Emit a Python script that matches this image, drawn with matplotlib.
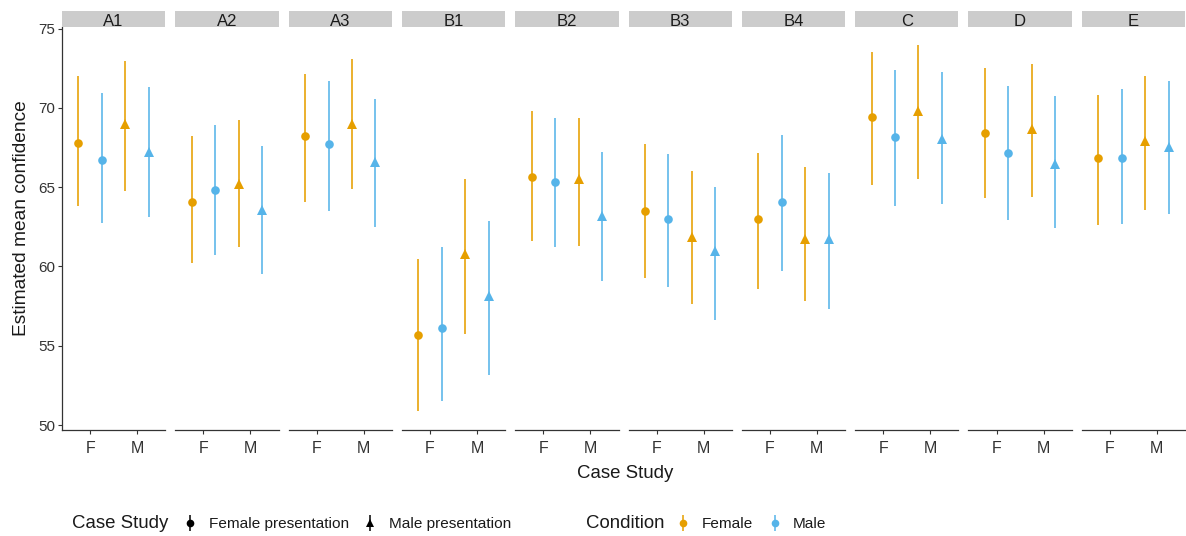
import matplotlib
matplotlib.use("Agg")
import matplotlib.pyplot as plt
from matplotlib.lines import Line2D
from matplotlib.legend_handler import HandlerTuple

plt.rcParams['font.family'] = ['Liberation Sans', 'DejaVu Sans']

panels = ["A1", "A2", "A3", "B1", "B2", "B3", "B4", "C", "D", "E"]
presentations = ["F", "M"]

# Female condition, F presentation
fem_F_mean = [67.80, 64.06, 68.25, 55.65, 65.63, 63.49, 62.99, 69.40, 68.40, 66.82]
fem_F_lo   = [63.84, 60.22, 64.09, 50.89, 61.62, 59.28, 58.58, 65.13, 64.31, 62.59]
fem_F_hi   = [72.00, 68.23, 72.13, 60.47, 69.82, 67.70, 67.18, 73.51, 72.50, 70.81]
# Male condition, F presentation
mal_F_mean = [66.70, 64.81, 67.74, 56.09, 65.35, 62.99, 64.06, 68.18, 67.18, 66.82]
mal_F_lo   = [62.73, 60.72, 63.47, 51.50, 61.23, 58.71, 59.74, 63.84, 62.92, 62.67]
mal_F_hi   = [70.93, 68.92, 71.70, 61.23, 69.38, 67.11, 68.29, 72.38, 71.37, 71.18]
# Female condition, M presentation
fem_M_mean = [68.98, 65.21, 68.98, 60.78, 65.52, 61.85, 61.73, 69.80, 68.67, 67.89]
fem_M_lo   = [64.79, 61.23, 64.91, 55.77, 61.26, 57.66, 57.81, 65.50, 64.41, 63.55]
fem_M_hi   = [72.94, 69.25, 73.07, 65.52, 69.38, 66.04, 66.30, 73.95, 72.75, 72.00]
# Male condition, M presentation
mal_M_mean = [67.24, 63.57, 66.61, 58.12, 63.21, 60.95, 61.73, 68.04, 66.48, 67.55]
mal_M_lo   = [63.15, 59.53, 62.46, 53.15, 59.06, 56.65, 57.35, 63.93, 62.42, 63.32]
mal_M_hi   = [71.31, 67.62, 70.55, 62.88, 67.24, 65.04, 65.88, 72.27, 70.74, 71.69]

y_ticks = [50, 55, 60, 65, 70, 75]

ORANGE = "#E69F00"
BLUE = "#56B4E9"
series = [
    # (presentation index, offset, colour, marker, mean, lo, hi)
    (0, -0.25, ORANGE, 'o', fem_F_mean, fem_F_lo, fem_F_hi),
    (0, +0.25, BLUE,   'o', mal_F_mean, mal_F_lo, mal_F_hi),
    (1, -0.25, ORANGE, '^', fem_M_mean, fem_M_lo, fem_M_hi),
    (1, +0.25, BLUE,   '^', mal_M_mean, mal_M_lo, mal_M_hi),
]

W, H = 1186, 536
fig = plt.figure(figsize=(W / 100, H / 100), dpi=100)

left_px, right_px, gap_px = 62, 1185, 10
pw = (right_px - left_px - 9 * gap_px) / 10
top_px, bot_px = 27.3, 430
strip_top_px = 11.2
TXT = "#1a1a1a"
TICK = "#333333"

for i, name in enumerate(panels):
    x0 = left_px + i * (pw + gap_px)
    ax = fig.add_axes([x0 / W, 1 - bot_px / H, pw / W, (bot_px - top_px) / H])
    for (pi, off, col, mk, mean, lo, hi) in series:
        x = pi + 1 + off
        ax.vlines(x, lo[i], hi[i], color=col, lw=1.15, zorder=2)
        ax.plot([x], [mean[i]], marker=mk, color=col, markersize=6.2 if mk == 'o' else 7.0,
                markeredgewidth=0, linestyle='none', zorder=3)
    ax.set_xlim(0.4, 2.6)
    ax.set_ylim(49.69, 75.08)
    ax.set_xticks([1, 2])
    ax.set_xticklabels(presentations, fontsize=11.5, color=TICK)
    ax.tick_params(axis='x', length=3, width=0.8, color=TICK, pad=5)
    for s in ['top', 'right']:
        ax.spines[s].set_visible(False)
    ax.spines['bottom'].set_linewidth(0.9)
    ax.spines['bottom'].set_color(TICK)
    if i == 0:
        ax.set_yticks(y_ticks)
        ax.set_yticklabels([str(v) for v in y_ticks], fontsize=11, color=TICK)
        ax.tick_params(axis='y', length=3, width=0.8, color=TICK, pad=2)
        ax.spines['left'].set_linewidth(0.9)
        ax.spines['left'].set_color(TICK)
        ax.set_ylabel("Estimated mean confidence", fontsize=13.8, color=TXT)
        ax.yaxis.set_label_coords((30 - left_px) / pw, (bot_px - 218) / (bot_px - top_px))
    else:
        ax.spines['left'].set_visible(False)
        ax.set_yticks([])
    ax.patch.set_alpha(0)
    # strip
    sax = fig.add_axes([x0 / W, 1 - top_px / H, pw / W, (top_px - strip_top_px) / H])
    sax.set_facecolor("#CCCCCC")
    for s in sax.spines.values():
        s.set_visible(False)
    sax.set_xticks([])
    sax.set_yticks([])
    sax.text(0.5, 0.38, name, ha='center', va='center', fontsize=12, color=TXT,
             transform=sax.transAxes)

fig.text(625 / W, 1 - 474 / H, "Case Study", ha='center', va='center',
         fontsize=13.4, color=TXT)

# legends
ly = 1 - 524 / H
fig.text(72 / W, ly, "Case Study", ha='left', va='center', fontsize=13.4, color=TXT)
fig.text(586 / W, ly, "Condition", ha='left', va='center', fontsize=13.4, color=TXT)

def key(col, mk):
    bar = Line2D([0], [0], marker='|', color=col, markersize=11, markeredgewidth=1.1, linestyle='none')
    pt = Line2D([0], [0], marker=mk, color=col, markersize=5.5, markeredgewidth=0, linestyle='none')
    return (bar, pt)

common = dict(handler_map={tuple: HandlerTuple(ndivide=1, pad=0)},
              loc='center left', ncol=2, frameon=False, fontsize=11.1,
              handlelength=1.2, handletextpad=0.6, columnspacing=0.8,
              borderaxespad=0, borderpad=0)
leg1 = fig.legend([key('black', 'o'), key('black', '^')],
                  ["Female presentation", "Male presentation"],
                  bbox_to_anchor=(181 / W, ly), **common)
for t in leg1.get_texts():
    t.set_color(TXT)
leg2 = fig.legend([key(ORANGE, 'o'), key(BLUE, 'o')],
                  ["Female", "Male"],
                  bbox_to_anchor=(674 / W, ly), **common)
for t in leg2.get_texts():
    t.set_color(TXT)

fig.savefig("out.png", dpi=100, facecolor='white')
